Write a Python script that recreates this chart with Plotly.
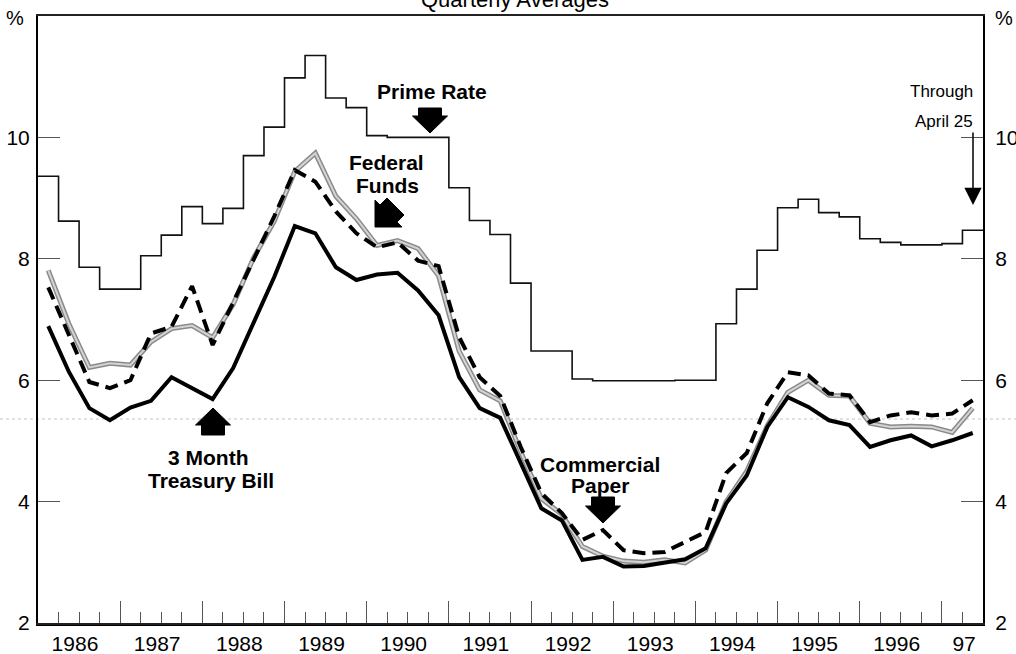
import math
import plotly.graph_objects as go

# ---------------- data (quarterly averages, 1986 Q1 - 1997 Q2) ----------------
start_year = 1986
prime_rate = [9.36, 8.62, 7.86, 7.50, 7.50, 8.05, 8.39, 8.86,
              8.58, 8.83, 9.70, 10.17, 10.98, 11.35, 10.65, 10.49,
              10.03, 10.00, 10.00, 10.00, 9.17, 8.63, 8.40, 7.60,
              6.48, 6.48, 6.02, 5.99, 5.99, 5.99, 5.99, 6.00,
              6.00, 6.93, 7.50, 8.14, 8.84, 8.98, 8.76, 8.69,
              8.33, 8.27, 8.23, 8.23, 8.25, 8.47]
tbill = [6.89, 6.14, 5.54, 5.34, 5.55, 5.66, 6.05, 5.87,
         5.69, 6.20, 6.95, 7.70, 8.54, 8.42, 7.86, 7.65,
         7.74, 7.77, 7.48, 7.07, 6.05, 5.54, 5.38, 4.62,
         3.89, 3.69, 3.04, 3.09, 2.93, 2.94, 2.99, 3.05,
         3.23, 3.97, 4.43, 5.23, 5.72, 5.56, 5.34, 5.26,
         4.90, 5.01, 5.09, 4.91, 5.01, 5.13]
fed_funds = [7.81, 6.93, 6.21, 6.28, 6.25, 6.63, 6.85, 6.90,
             6.70, 7.25, 8.02, 8.62, 9.44, 9.74, 9.03, 8.66,
             8.22, 8.30, 8.17, 7.72, 6.48, 5.84, 5.66, 4.82,
             4.05, 3.79, 3.26, 3.10, 3.02, 3.00, 3.04, 2.99,
             3.20, 4.00, 4.50, 5.25, 5.80, 6.00, 5.75, 5.74,
             5.29, 5.23, 5.24, 5.23, 5.14, 5.54]
comm_paper = [7.53, 6.75, 5.97, 5.87, 6.00, 6.77, 6.88, 7.55,
              6.58, 7.28, 8.00, 8.70, 9.46, 9.27, 8.78, 8.42,
              8.19, 8.27, 7.97, 7.88, 6.71, 6.05, 5.74, 4.90,
              4.14, 3.81, 3.37, 3.53, 3.20, 3.15, 3.17, 3.33,
              3.50, 4.47, 4.80, 5.62, 6.13, 6.08, 5.78, 5.75,
              5.31, 5.42, 5.47, 5.42, 5.45, 5.67]
year_labels = ['1986', '1987', '1988', '1989', '1990', '1991', '1992',
               '1993', '1994', '1995', '1996', '97']
y_ticks = [2, 4, 6, 8, 10]

# ---------------- geometry ----------------
W, H = 1016, 654
L, R, T, B = 38, 983, 16, 623
X0, X1 = 1986.0, 1997.5
Y0, Y1 = 2, 12

n = len(tbill)
x_mid = [start_year + 0.25 * i + 0.125 for i in range(n)]
x_step = [start_year + 0.25 * i for i in range(n + 1)]
prime_step = prime_rate + [prime_rate[-1]]

year_bounds = [start_year + k for k in range(1, 12)]
quarter_bounds = [start_year + 0.25 * i for i in range(1, n + 1) if (0.25 * i) % 1 != 0]
label_pos = [start_year + k + 0.45 for k in range(11)] + [1997.27]


def px(xp):
    return (xp - L) / (R - L)


def py(yp):
    return (B - yp) / (B - T)


FONT = "Liberation Sans, Arial, Helvetica, sans-serif"

fig = go.Figure()

# Federal funds: gray textured band
fig.add_trace(go.Scatter(x=x_mid, y=fed_funds, mode='lines',
                         line=dict(color='#8a8a8a', width=5), hoverinfo='skip',
                         showlegend=False))
fig.add_trace(go.Scatter(x=x_mid, y=fed_funds, mode='lines',
                         line=dict(color='#d4d4d4', width=2), name='Federal Funds',
                         showlegend=False))
# Commercial paper: dashed
fig.add_trace(go.Scatter(x=x_mid, y=comm_paper, mode='lines',
                         line=dict(color='black', width=4, dash='13px,7px'),
                         name='Commercial Paper', showlegend=False))
# 3 month T-bill: solid
fig.add_trace(go.Scatter(x=x_mid, y=tbill, mode='lines',
                         line=dict(color='black', width=4),
                         name='3 Month Treasury Bill', showlegend=False))
# Prime rate: step line (on overlay axes)
fig.add_trace(go.Scatter(x=x_step, y=prime_step, mode='lines', line_shape='hv',
                         line=dict(color='#111111', width=1.6),
                         name='Prime Rate', showlegend=False,
                         xaxis='x2', yaxis='y2'))

tickfont = dict(family=FONT, size=21, color='black')

fig.update_layout(
    width=W, height=H, autosize=False,
    margin=dict(l=L, r=W - R, t=T, b=H - B, pad=0),
    paper_bgcolor='white', plot_bgcolor='white',
    xaxis=dict(range=[X0, X1], tickmode='array', tickvals=label_pos,
               ticktext=year_labels, ticks='', showgrid=False, zeroline=False,
               showline=True, linecolor='black', linewidth=2.5,
               tickfont=tickfont, ticklabelstandoff=0, automargin=False),
    xaxis2=dict(range=[X0, X1], overlaying='x', side='bottom',
                tickmode='array', tickvals=year_bounds, ticks='inside',
                ticklen=22, tickwidth=1, tickcolor='#555555',
                showticklabels=False, showgrid=False, zeroline=False,
                showline=True, mirror=True, linecolor='#222222', linewidth=1.5,
                automargin=False,
                minor=dict(tickmode='array', tickvals=quarter_bounds,
                           ticks='inside', ticklen=11, tickwidth=1,
                           tickcolor='#555555', showgrid=False)),
    yaxis=dict(range=[Y0, Y1], tickmode='array', tickvals=y_ticks,
               ticks='inside', ticklen=22, tickwidth=1, tickcolor='#555555',
               showgrid=False, zeroline=False, showline=True,
               linecolor='black', linewidth=2, tickfont=tickfont,
               ticklabelstandoff=2, automargin=False),
    yaxis2=dict(range=[Y0, Y1], overlaying='y', side='right', tickmode='array',
                tickvals=y_ticks, ticks='inside', ticklen=22, tickwidth=1,
                tickcolor='#555555', showgrid=False, zeroline=False,
                showline=True, linecolor='black', linewidth=2,
                tickfont=tickfont, ticklabelstandoff=6, automargin=False),
)

annotations = []


def text(s, xp, yp, size=21, bold=True):
    annotations.append(dict(
        text=f'<b>{s}</b>' if bold else s, xref='paper', yref='paper',
        x=px(xp), y=py(yp), xanchor='center', yanchor='middle',
        showarrow=False, font=dict(family=FONT, size=size, color='black')))


def block_arrow(tip_x, tip_y, tail_dx, tail_dy, length=25, head=17,
                head_half=17.5, shaft_half=11.5):
    """Filled block arrow drawn as a pixel-sized path anchored at its tip.
    (tail_dx, tail_dy) is the screen direction from tip toward tail (y down)."""
    norm = math.hypot(tail_dx, tail_dy)
    ux, uy = tail_dx / norm, -tail_dy / norm      # path y is positive upward
    vx, vy = -uy, ux
    local = [(0, 0), (head, -head_half), (head, -shaft_half), (length, -shaft_half),
             (length, shaft_half), (head, shaft_half), (head, head_half)]
    pts = [(u * ux + v * vx, u * uy + v * vy) for u, v in local]
    path = 'M ' + ' L '.join(f'{a:.2f},{b:.2f}' for a, b in pts) + ' Z'
    fig.add_shape(type='path', xref='paper', yref='paper',
                  xsizemode='pixel', ysizemode='pixel',
                  xanchor=px(tip_x), yanchor=py(tip_y), path=path,
                  fillcolor='black', line=dict(color='black', width=1))


text('Quarterly Averages', 515, -1, size=22, bold=False)
text('%', 15, 18, size=20, bold=False)
text('%', 1004, 18, size=20, bold=False)

text('Prime Rate', 432, 91)
block_arrow(430, 133, 0, -1)

text('Federal', 386, 163)
text('Funds', 387, 185)
block_arrow(375, 227, 1, -1, length=29, head=19, head_half=19, shaft_half=12)

text('3 Month', 208, 457)
text('Treasury Bill', 211, 480)
block_arrow(213, 408, 0, 1, length=27)

text('Commercial', 600, 464)
text('Paper', 600, 485)
block_arrow(603, 523, 0, -1, length=26)

text('Through', 941, 92, size=17, bold=False)
text('April 25', 944, 121, size=17, bold=False)
annotations.append(dict(
    text='', xref='paper', yref='paper', x=px(973), y=py(205),
    ax=0, ay=-74, showarrow=True, arrowhead=2, arrowsize=2.3,
    arrowwidth=1.5, arrowcolor='black', standoff=0))

fig.update_layout(annotations=annotations)

# faint scan line across the page
fig.add_shape(type='line', xref='paper', yref='paper',
              x0=px(0), x1=px(W), y0=py(419), y1=py(419),
              line=dict(color='#c4c4c4', width=1, dash='dot'), layer='below')

fig.write_html('out.html',
               config={'displayModeBar': False},
               post_script="document.body.style.margin='0';"
                           "document.body.style.overflow='hidden';")
